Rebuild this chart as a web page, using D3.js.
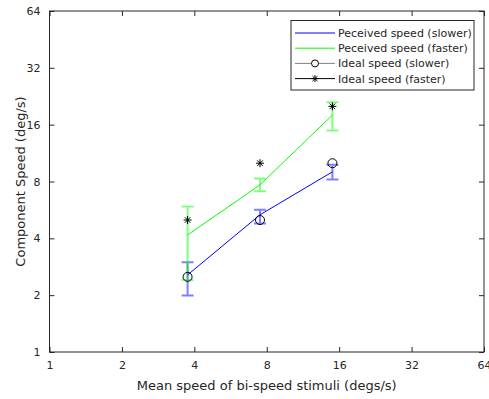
<!DOCTYPE html>
<html>
<head>
<meta charset="utf-8">
<script src="https://cdn.jsdelivr.net/npm/d3@7"></script>
<style>
  body { margin: 0; background: #fff; }
  text { font-family: "DejaVu Sans", sans-serif; fill: #262626; }
</style>
</head>
<body>
<div id="chart"></div>
<script>
const meanSpeeds = [3.75, 7.5, 15];
const perceivedSlower = [2.56, 5.33, 9.0];
const slowerLow = [1.99, 4.8, 8.2];
const slowerHigh = [2.99, 5.66, 9.8];
const perceivedFaster = [4.17, 7.68, 18.0];
const fasterLow = [2.41, 7.1, 14.9];
const fasterHigh = [5.9, 8.3, 21.0];
const idealSlower = [2.5, 5, 10];
const idealFaster = [5, 10, 20];
const tickValues = [1, 2, 4, 8, 16, 32, 64];
const legendLabels = ['Peceived speed (slower)', 'Peceived speed (faster)', 'Ideal speed (slower)', 'Ideal speed (faster)'];

const width = 489, height = 399;
const margin = { top: 11, right: 5, bottom: 47, left: 49.5 };
const w = width - margin.left - margin.right;
const h = height - margin.top - margin.bottom;

const svg = d3.select('#chart').append('svg')
    .attr('width', width)
    .attr('height', height);

const g = svg.append('g')
    .attr('transform', `translate(${margin.left},${margin.top})`);

const x = d3.scaleLog().base(2).domain([1, 64]).range([0, w]);
const y = d3.scaleLog().base(2).domain([1, 64]).range([h, 0]);

// axes box
g.append('rect')
    .attr('width', w).attr('height', h)
    .attr('fill', 'none').attr('stroke', '#262626').attr('stroke-width', 1);

const axisStyle = sel => {
    sel.select('.domain').remove();
    sel.selectAll('line').attr('stroke', '#262626');
    sel.selectAll('text').style('font-size', '11px').attr('fill', '#262626');
};

g.append('g').attr('transform', `translate(0,${h})`)
    .call(d3.axisBottom(x).tickValues(tickValues).tickFormat(d3.format('d')).tickSizeInner(-5).tickSizeOuter(0).tickPadding(9))
    .call(axisStyle);
g.append('g')
    .call(d3.axisLeft(y).tickValues(tickValues).tickFormat(d3.format('d')).tickSizeInner(-5).tickSizeOuter(0).tickPadding(9))
    .call(axisStyle);
g.append('g')
    .call(d3.axisTop(x).tickValues(tickValues).tickFormat('').tickSizeInner(-5).tickSizeOuter(0))
    .call(axisStyle);
g.append('g').attr('transform', `translate(${w},0)`)
    .call(d3.axisRight(y).tickValues(tickValues).tickFormat('').tickSizeInner(-5).tickSizeOuter(0))
    .call(axisStyle);

// axis labels
g.append('text')
    .attr('x', w / 2).attr('y', h + 38)
    .attr('text-anchor', 'middle')
    .style('font-size', '13px')
    .text('Mean speed of bi-speed stimuli (degs/s)');
g.append('text')
    .attr('transform', 'rotate(-90)')
    .attr('x', -h / 2).attr('y', -25)
    .attr('text-anchor', 'middle')
    .style('font-size', '13px')
    .text('Component Speed (deg/s)');

// error bars
function errorBars(low, high, color) {
    const eb = g.append('g')
        .attr('stroke', color).attr('stroke-opacity', 0.5).attr('stroke-width', 2).attr('fill', 'none');
    meanSpeeds.forEach((s, i) => {
        const cx = x(s);
        eb.append('path')
            .attr('d', `M${cx},${y(low[i])}V${y(high[i])}M${cx - 6},${y(low[i])}H${cx + 6}M${cx - 6},${y(high[i])}H${cx + 6}`);
    });
}
errorBars(slowerLow, slowerHigh, '#0000ff');
errorBars(fasterLow, fasterHigh, '#00ff00');

const line = d3.line().x(d => x(d[0])).y(d => y(d[1]));
g.append('path')
    .datum(d3.zip(meanSpeeds, perceivedSlower))
    .attr('fill', 'none').attr('stroke', '#0000ff').attr('stroke-width', 1)
    .attr('d', line);
g.append('path')
    .datum(d3.zip(meanSpeeds, perceivedFaster))
    .attr('fill', 'none').attr('stroke', '#00ff00').attr('stroke-width', 1)
    .attr('d', line);

// ideal markers
g.selectAll('.ideal-slow')
    .data(d3.zip(meanSpeeds, idealSlower))
    .enter().append('circle')
    .attr('cx', d => x(d[0])).attr('cy', d => y(d[1]))
    .attr('r', 4.5)
    .attr('fill', 'none').attr('stroke', '#000').attr('stroke-width', 1);

const star = (cx, cy, r) => {
    let p = '';
    for (let k = 0; k < 4; k++) {
        const a = k * Math.PI / 4;
        const dx = r * Math.cos(a), dy = r * Math.sin(a);
        p += `M${cx - dx},${cy - dy}L${cx + dx},${cy + dy}`;
    }
    return p;
};
g.selectAll('.ideal-fast')
    .data(d3.zip(meanSpeeds, idealFaster))
    .enter().append('path')
    .attr('d', d => star(x(d[0]), y(d[1]), 4))
    .attr('fill', 'none').attr('stroke', '#000').attr('stroke-width', 1);

// legend
const legend = svg.append('g').attr('transform', 'translate(291,20.5)');
legend.append('rect')
    .attr('width', 183).attr('height', 69.5)
    .attr('fill', '#fff').attr('stroke', '#262626').attr('stroke-width', 1);

const legendStyles = [
    { color: '#8080ff', width: 2, marker: null },
    { color: '#00ff00', width: 1, marker: null },
    { color: '#808080', width: 1, marker: 'circle' },
    { color: '#000', width: 1, marker: 'star' }
];
legendLabels.forEach((label, i) => {
    const ly = 12.5 + i * 15.2;
    const row = legend.append('g');
    row.append('line')
        .attr('x1', 4).attr('x2', 44).attr('y1', ly).attr('y2', ly)
        .attr('stroke', legendStyles[i].color).attr('stroke-width', legendStyles[i].width);
    if (legendStyles[i].marker === 'circle') {
        row.append('circle').attr('cx', 24).attr('cy', ly).attr('r', 3.5)
            .attr('fill', '#fff').attr('stroke', '#000');
    } else if (legendStyles[i].marker === 'star') {
        row.append('path').attr('d', star(24, ly, 3.5))
            .attr('stroke', '#000').attr('fill', 'none');
    }
    row.append('text')
        .attr('x', 47).attr('y', ly + 4)
        .style('font-size', '11px')
        .text(label);
});
</script>
</body>
</html>
